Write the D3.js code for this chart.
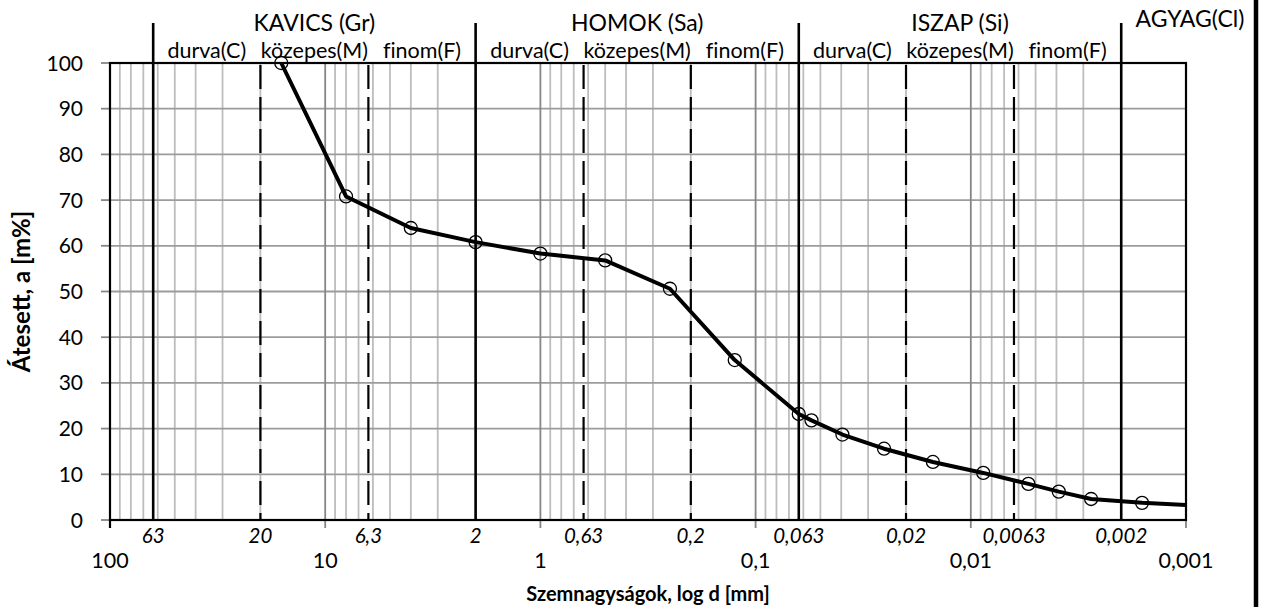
<!DOCTYPE html>
<html>
<head>
<meta charset="utf-8">
<script src="https://cdn.jsdelivr.net/npm/d3@7"></script>
<style>
  body { margin: 0; background: #fff; }
  svg { display: block; }
  text { font-family: Lato, "Open Sans", sans-serif; fill: #000; }
</style>
</head>
<body>
<svg id="chart" width="1261" height="607"></svg>
<script>
// Grain size distribution: sieve + hydrometer results
const grainSizes = [16, 8, 4, 2, 1, 0.5, 0.25, 0.125, 0.063, 0.055, 0.0395, 0.0253, 0.015, 0.00875, 0.0054, 0.0039, 0.00276, 0.0016];
const passing    = [100, 70.8, 63.9, 60.8, 58.3, 56.8, 50.6, 35.0, 23.2, 21.8, 18.7, 15.6, 12.7, 10.3, 7.9, 6.2, 4.6, 3.75];
// curve continuation to the chart edge (no marker)
const tailSizes   = [0.001];
const tailPassing = [3.3];

// axis ticks
const decadeTicks  = [100, 10, 1, 0.1, 0.01, 0.001];
const decadeLabels = ["100", "10", "1", "0,1", "0,01", "0,001"];
const yTicks = [0, 10, 20, 30, 40, 50, 60, 70, 80, 90, 100];

// soil fraction limits (mm)
const mainBounds  = [63, 2, 0.063, 0.002];
const subBounds   = [20, 6.3, 0.63, 0.2, 0.02, 0.0063];
const boundValues = [63, 20, 6.3, 2, 0.63, 0.2, 0.063, 0.02, 0.0063, 0.002];
const boundLabels = ["63", "20", "6,3", "2", "0,63", "0,2", "0,063", "0,02", "0,0063", "0,002"];

const groupNames = ["KAVICS (Gr)", "HOMOK (Sa)", "ISZAP (Si)"];
const subNames   = ["durva(C)", "közepes(M)", "finom(F)"];
const clayName   = "AGYAG(Cl)";

const yTitle = "Átesett, a [m%]";
const xTitle = "Szemnagyságok, log d [mm]";

const svg = d3.select("#chart");
const plotL = 110, plotR = 1186, plotT = 63, plotB = 520;

const x = d3.scaleLog().domain([100, 0.001]).range([plotL, plotR]);
const y = d3.scaleLinear().domain([0, 100]).range([plotB, plotT]);

// minor vertical grid (2..9 x 10^k)
const minor = [];
for (let k = -3; k < 2; k++) {
  for (let m = 2; m <= 9; m++) minor.push(m * Math.pow(10, k));
}
svg.append("g").selectAll("line").data(minor).join("line")
  .attr("x1", d => x(d)).attr("x2", d => x(d))
  .attr("y1", plotT).attr("y2", plotB)
  .attr("stroke", "#bdbdbd").attr("stroke-width", 1.8);

// horizontal grid
svg.append("g").selectAll("line").data(yTicks.filter(v => v > 0 && v < 100)).join("line")
  .attr("x1", plotL).attr("x2", plotR)
  .attr("y1", d => y(d)).attr("y2", d => y(d))
  .attr("stroke", "#9c9c9c").attr("stroke-width", 1.8);

// decade grid lines with ticks below the axis
svg.append("g").selectAll("line").data(decadeTicks).join("line")
  .attr("x1", d => x(d)).attr("x2", d => x(d))
  .attr("y1", plotT).attr("y2", plotB + 8)
  .attr("stroke", "#868686").attr("stroke-width", 1.8);

// y ticks
svg.append("g").selectAll("line").data(yTicks).join("line")
  .attr("x1", plotL - 9).attr("x2", plotL)
  .attr("y1", d => y(d)).attr("y2", d => y(d))
  .attr("stroke", "#868686").attr("stroke-width", 1.8);

// fraction boundaries: solid main limits, dashed sub limits
svg.append("g").selectAll("line").data(mainBounds).join("line")
  .attr("x1", d => x(d)).attr("x2", d => x(d))
  .attr("y1", 23).attr("y2", plotB)
  .attr("stroke", "#000").attr("stroke-width", 2.6);

svg.append("g").selectAll("line").data(subBounds).join("line")
  .attr("x1", d => x(d)).attr("x2", d => x(d))
  .attr("y1", plotT - 3).attr("y2", plotB)
  .attr("stroke", "#000").attr("stroke-width", 2.2)
  .attr("stroke-dasharray", "24,8").attr("stroke-dashoffset", 27);

// plot frame
svg.append("rect")
  .attr("x", plotL).attr("y", plotT)
  .attr("width", plotR - plotL).attr("height", plotB - plotT)
  .attr("fill", "none").attr("stroke", "#000").attr("stroke-width", 2.2);
svg.append("line")
  .attr("x1", plotL).attr("x2", plotL).attr("y1", plotB).attr("y2", plotB + 8)
  .attr("stroke", "#000").attr("stroke-width", 2.2);

// outer right border
svg.append("line")
  .attr("x1", 1256).attr("x2", 1256).attr("y1", 0).attr("y2", 607)
  .attr("stroke", "#000").attr("stroke-width", 4.5);

// y tick labels
svg.append("g").selectAll("text").data(yTicks).join("text")
  .attr("x", 83).attr("y", d => y(d)).attr("dy", "0.36em")
  .attr("text-anchor", "end").attr("font-size", 21)
  .text(d => d);

// decade labels
svg.append("g").selectAll("text").data(decadeTicks).join("text")
  .attr("x", d => x(d)).attr("y", 568)
  .attr("text-anchor", "middle").attr("font-size", 21.5)
  .text((d, i) => decadeLabels[i]);

// boundary value labels
svg.append("g").selectAll("text").data(boundValues).join("text")
  .attr("x", d => x(d)).attr("y", 543)
  .attr("text-anchor", "middle").attr("font-size", 20.5).attr("font-style", "italic")
  .text((d, i) => boundLabels[i]);

// group headings
const groupData = groupNames.map((n, i) => ({ name: n, a: mainBounds[i], b: mainBounds[i + 1] }));
svg.append("g").selectAll("text").data(groupData).join("text")
  .attr("x", d => (x(d.a) + x(d.b)) / 2).attr("y", 31)
  .attr("text-anchor", "middle").attr("font-size", 23)
  .text(d => d.name);

// sub-fraction headings
const subData = [];
for (let g = 0; g < 3; g++) {
  for (let s = 0; s < 3; s++) {
    subData.push({ name: subNames[s], a: boundValues[g * 3 + s], b: boundValues[g * 3 + s + 1] });
  }
}
svg.append("g").selectAll("text").data(subData).join("text")
  .attr("x", d => (x(d.a) + x(d.b)) / 2).attr("y", 58)
  .attr("text-anchor", "middle").attr("font-size", 21.5)
  .style("font-variant-ligatures", "none")
  .text(d => d.name);

svg.append("text")
  .attr("x", x(0.001) + 4).attr("y", 27)
  .attr("text-anchor", "middle").attr("font-size", 23)
  .text(clayName);

// axis titles
svg.append("text")
  .attr("transform", `translate(30,${(plotT + plotB) / 2}) rotate(-90)`)
  .attr("text-anchor", "middle").attr("font-size", 24).attr("font-weight", "bold")
  .text(yTitle);
svg.append("text")
  .attr("x", (plotL + plotR) / 2).attr("y", 601)
  .attr("text-anchor", "middle").attr("font-size", 20).attr("font-weight", "bold")
  .text(xTitle);

// grading curve
const curvePts = grainSizes.map((d, i) => [d, passing[i]])
  .concat(tailSizes.map((d, i) => [d, tailPassing[i]]));
svg.append("path")
  .datum(curvePts)
  .attr("fill", "none").attr("stroke", "#000").attr("stroke-width", 4)
  .attr("stroke-linejoin", "round")
  .attr("d", d3.line().x(d => x(d[0])).y(d => y(d[1])));

svg.append("g").selectAll("circle").data(grainSizes).join("circle")
  .attr("cx", d => x(d)).attr("cy", (d, i) => y(passing[i]))
  .attr("r", 6.5)
  .attr("fill", "none").attr("stroke", "#000").attr("stroke-width", 1.3);
</script>
</body>
</html>
